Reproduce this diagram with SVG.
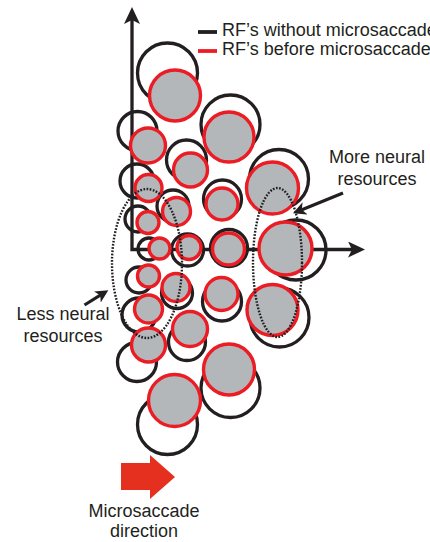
<svg xmlns="http://www.w3.org/2000/svg" width="430" height="542" viewBox="0 0 430 542">
<style>
.bk{fill:none;stroke:#231f20;stroke-width:3.3}
.rd{fill:#b4b7ba;stroke:#ec1c24;stroke-width:3.4}
.dot{fill:none;stroke:#231f20;stroke-width:2.4;stroke-dasharray:1.7 1.5}
.ax{fill:none;stroke:#231f20;stroke-width:3.3;stroke-linejoin:miter}
.ann{fill:none;stroke:#231f20;stroke-width:3.2}
text{font-family:"Liberation Sans",Arial,sans-serif;font-size:18px;fill:#231f20}
</style>
<defs>
<marker id="axh" viewBox="0 0 17 16" refX="5" refY="8" markerWidth="17" markerHeight="16" markerUnits="userSpaceOnUse" orient="auto-start-reverse">
<path d="M0,0 L17,8 L0,16 L4,8 Z" fill="#231f20"/>
</marker>
<marker id="ah" viewBox="0 0 13 13" refX="4" refY="6.5" markerWidth="13" markerHeight="13" markerUnits="userSpaceOnUse" orient="auto">
<path d="M0,0 L13,6.5 L0,13 L3.5,6.5 Z" fill="#231f20"/>
</marker>
</defs>

<g id="connectors">
<path id="axes" class="ax" d="M132,19 L132,249.5 L353,249.5" marker-start="url(#axh)" marker-end="url(#axh)"/>
</g>

<g id="rf-without">
<circle class="bk" cx="137.5" cy="131" r="19.5"/>
<circle class="bk" cx="137" cy="181" r="17"/>
<circle class="bk" cx="138" cy="219" r="13"/>
<circle class="bk" cx="149" cy="249" r="11"/>
<circle class="bk" cx="139" cy="280" r="13"/>
<circle class="bk" cx="139" cy="315" r="17"/>
<circle class="bk" cx="137" cy="362" r="19.5"/>
<circle class="bk" cx="167.5" cy="73" r="30"/>
<circle class="bk" cx="186.5" cy="160" r="20"/>
<circle class="bk" cx="173" cy="206" r="16"/>
<circle class="bk" cx="187.5" cy="250" r="16"/>
<circle class="bk" cx="177" cy="293" r="15.5"/>
<circle class="bk" cx="187" cy="342" r="18.5"/>
<circle class="bk" cx="167.5" cy="424.5" r="30"/>
<circle class="bk" cx="230.5" cy="124.5" r="29.5"/>
<circle class="bk" cx="222.5" cy="199" r="19"/>
<circle class="bk" cx="229" cy="248" r="18.5"/>
<circle class="bk" cx="222" cy="301.5" r="19.5"/>
<circle class="bk" cx="230.5" cy="388" r="29.5"/>
<circle class="bk" cx="279" cy="179" r="29.5"/>
<circle class="bk" cx="296" cy="250" r="30"/>
<circle class="bk" cx="279.5" cy="317.5" r="29.5"/>
</g>

<g id="rf-before">
<circle class="rd" cx="148" cy="145.5" r="17.5"/>
<circle class="rd" cx="148.5" cy="188" r="13.5"/>
<circle class="rd" cx="148" cy="222.5" r="11"/>
<circle class="rd" cx="159.5" cy="248.5" r="10.5"/>
<circle class="rd" cx="148.5" cy="276" r="11"/>
<circle class="rd" cx="148.5" cy="309" r="14"/>
<circle class="rd" cx="148.5" cy="345" r="17"/>
<circle class="rd" cx="175" cy="95.5" r="25.5"/>
<circle class="rd" cx="190.5" cy="170" r="17"/>
<circle class="rd" cx="176.5" cy="211.5" r="14"/>
<circle class="rd" cx="189" cy="247.5" r="12"/>
<circle class="rd" cx="176" cy="287.5" r="14"/>
<circle class="rd" cx="190" cy="329" r="17.5"/>
<circle class="rd" cx="174.5" cy="400.5" r="26"/>
<circle class="rd" cx="229" cy="137" r="25"/>
<circle class="rd" cx="222" cy="204" r="16"/>
<circle class="rd" cx="228.5" cy="249" r="16"/>
<circle class="rd" cx="221.5" cy="294" r="16.5"/>
<circle class="rd" cx="229" cy="369.5" r="25.5"/>
<circle class="rd" cx="272.5" cy="188" r="26"/>
<circle class="rd" cx="285.5" cy="248.5" r="26.5"/>
<circle class="rd" cx="272.5" cy="310" r="25.5"/>
</g>

<g id="less-region">
<ellipse class="dot" cx="147" cy="263.5" rx="35" ry="74.5"/>
</g>
<g id="more-region">
<ellipse class="dot" cx="277.5" cy="262.5" rx="24.5" ry="74.5"/>
</g>

<g id="annotation-arrows">
<line class="ann" x1="343" y1="193" x2="301.3" y2="209.9" marker-end="url(#ah)"/>
<line class="ann" x1="84.5" y1="305" x2="100.7" y2="294.9" marker-end="url(#ah)"/>
</g>

<g id="legend">
<line x1="198" y1="32" x2="217" y2="32" stroke="#231f20" stroke-width="3.8"/>
<line x1="198" y1="51" x2="217" y2="51" stroke="#ec1c24" stroke-width="3.8"/>
<text x="222" y="36">RF’s without microsaccades</text>
<text x="222" y="55">RF’s before microsaccades</text>
</g>

<g id="more-label">
<text x="377" y="163" text-anchor="middle">More neural</text>
<text x="377" y="185" text-anchor="middle">resources</text>
</g>

<g id="less-label">
<text x="63" y="320" text-anchor="middle">Less neural</text>
<text x="63" y="342" text-anchor="middle">resources</text>
</g>

<g id="microsaccade">
<polygon points="121,463 150,463 150,455 175,477 150,499 150,490 121,490" fill="#e6301f"/>
<text x="144" y="517" text-anchor="middle">Microsaccade</text>
<text x="144" y="537" text-anchor="middle">direction</text>
</g>
</svg>
